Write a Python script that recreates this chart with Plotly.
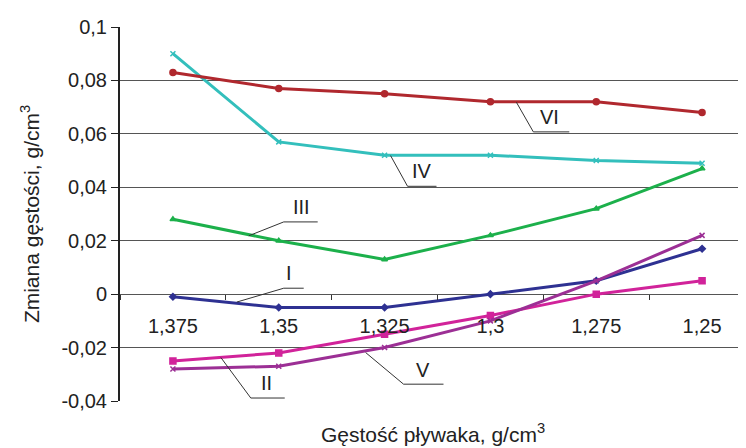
import plotly.graph_objects as go

categories = ["1,375", "1,35", "1,325", "1,3", "1,275", "1,25"]
series_I = [-0.001, -0.005, -0.005, 0.000, 0.005, 0.017]
series_II = [-0.025, -0.022, -0.015, -0.008, 0.000, 0.005]
series_III = [0.028, 0.020, 0.013, 0.022, 0.032, 0.047]
series_IV = [0.090, 0.057, 0.052, 0.052, 0.050, 0.049]
series_V = [-0.028, -0.027, -0.020, -0.010, 0.005, 0.022]
series_VI = [0.083, 0.077, 0.075, 0.072, 0.072, 0.068]
y_tickvals = [-0.04, -0.02, 0, 0.02, 0.04, 0.06, 0.08, 0.1]
y_ticktext = ["-0,04", "-0,02", "0", "0,02", "0,04", "0,06", "0,08", "0,1"]

FONT = "Liberation Sans, Arial, sans-serif"

styles = [
    ("I", series_I, "#2E3192", "diamond", 5),
    ("II", series_II, "#D1239A", "square", 6),
    ("III", series_III, "#1CB04B", "triangle-up", 5),
    ("IV", series_IV, "#33BFBC", "x-thin-open", 5),
    ("V", series_V, "#9C2F95", "x-thin-open", 5),
    ("VI", series_VI, "#B0282E", "circle", 6),
]

fig = go.Figure()
for name, vals, color, sym, size in styles:
    fig.add_trace(go.Scatter(
        x=categories, y=vals, mode="lines+markers", name=name,
        line=dict(color=color, width=3),
        marker=dict(symbol=sym, size=size, color=color, line=dict(color=color, width=1.5)),
        showlegend=False,
    ))

# helpers converting reference-pixel positions of the label leaders to data coords
def px2x(px):
    return (px - 172) / 106.0

def py2y(py):
    return (293 - py) / 2700.0

labels = [
    ("VI", 549, 114, [(516, 99), (533, 129), (569, 129)]),
    ("IV", 421, 169, [(390, 153), (407, 184), (436, 184)]),
    ("III", 301, 205, [(248, 234), (283, 220), (317, 220)]),
    ("I", 288, 272, [(236, 301), (283, 287), (303, 287)]),
    ("II", 266, 383, [(220, 357), (250, 398), (284, 398)]),
    ("V", 422, 370, [(365, 352), (403, 384), (443, 384)]),
]
for text, tx, ty, pts in labels:
    for (x0, y0), (x1, y1) in zip(pts[:-1], pts[1:]):
        fig.add_shape(type="line", xref="x", yref="y",
                      x0=px2x(x0), y0=py2y(y0), x1=px2x(x1), y1=py2y(y1),
                      line=dict(color="#333333", width=1))
    fig.add_annotation(x=px2x(tx), y=py2y(ty), xref="x", yref="y", text=text,
                       showarrow=False, font=dict(family=FONT, size=20, color="#222222"))

fig.add_annotation(x=0.5, y=-0.086, xref="paper", yref="paper", yanchor="middle",
                   text="Gęstość pływaka, g/cm<sup>3</sup>", showarrow=False,
                   font=dict(family=FONT, size=21, color="#222222"))

fig.update_layout(
    width=746, height=448,
    margin=dict(l=112, r=8, t=15, b=55),
    paper_bgcolor="white", plot_bgcolor="white",
    font=dict(family=FONT, size=20, color="#222222"),
    xaxis=dict(
        type="category", range=[-0.5, 5.415],
        anchor="free", position=0.04 / 0.14,
        tickson="boundaries", ticks="outside", ticklen=5, tickcolor="#333333",
        showline=False, showgrid=False, zeroline=False,
        ticklabelstandoff=18,
        tickfont=dict(family=FONT, size=20, color="#222222"),
    ),
    yaxis=dict(
        range=[-0.04, 0.1], tickvals=y_tickvals, ticktext=y_ticktext,
        showgrid=True, gridcolor="#555555", gridwidth=1,
        zeroline=False, showline=True, linecolor="#222222", linewidth=2,
        ticks="outside", ticklen=7, tickcolor="#222222",
        tickfont=dict(family=FONT, size=20, color="#222222"),
        title=dict(text="Zmiana gęstości, g/cm<sup>3</sup>",
                   font=dict(family=FONT, size=21, color="#222222"), standoff=16),
    ),
)

fig.write_html("out.html")
